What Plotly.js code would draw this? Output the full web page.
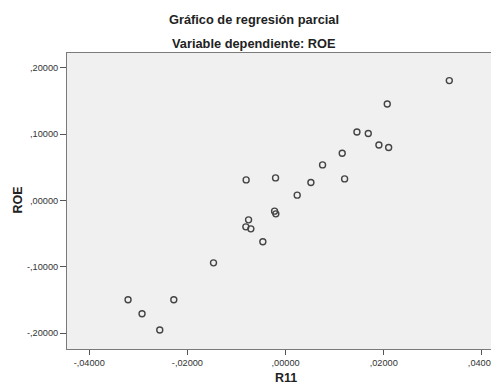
<!DOCTYPE html>
<html>
<head>
<meta charset="utf-8">
<script src="https://cdn.plot.ly/plotly-3.0.1.min.js"></script>
<style>
  html, body { margin: 0; padding: 0; overflow: hidden; background: #ffffff; }
  #chart { width: 500px; height: 385px; }
</style>
</head>
<body>
<div id="chart"></div>
<script>
// Partial regression: residuals of R11 vs residuals of ROE
const r11 = [
  0.03336, 0.02072, 0.01454, 0.01685, 0.01902, 0.02100, 0.01154, 0.00754,
  -0.00803, -0.00204, 0.00516, 0.01203, 0.00237, -0.00224, -0.00198,
  -0.00754, -0.00809, -0.00707, -0.00463, -0.01468,
  -0.03209, -0.02277, -0.02924, -0.02563
];
const roe = [
  0.1807, 0.1455, 0.1033, 0.1009, 0.0837, 0.0798, 0.0712, 0.0536,
  0.0310, 0.0340, 0.0271, 0.0325, 0.0080, -0.0161, -0.0202,
  -0.0292, -0.0398, -0.0428, -0.0623, -0.0940,
  -0.1497, -0.1497, -0.1708, -0.1953
];

const xTickVals = [-0.04, -0.02, 0, 0.02, 0.04];
const xTickText = ["-,04000", "-,02000", ",00000", ",02000", ",04000"];
const yTickVals = [0.2, 0.1, 0, -0.1, -0.2];
const yTickText = [",20000", ",10000", ",00000", "-,10000", "-,20000"];

const titleText = "Gráfico de regresión parcial";
const subtitleText = "Variable dependiente: ROE";
const xTitle = "R11";
const yTitle = "ROE";

const FONT = "Liberation Sans, Arial, sans-serif";

const trace = {
  type: "scatter",
  mode: "markers",
  x: r11,
  y: roe,
  marker: {
    symbol: "circle-open",
    size: 6,
    color: "#444444",
    line: { width: 1.4, color: "#444444" }
  },
  hoverinfo: "x+y"
};

const axisCommon = {
  showgrid: false,
  zeroline: false,
  showline: true,
  linecolor: "#7a7a7a",
  linewidth: 1,
  mirror: true,
  ticks: "outside",
  tickcolor: "#555555",
  tickwidth: 1,
  tickfont: { family: FONT, size: 9.2, color: "#333333" },
  automargin: false,
  fixedrange: true
};

const layout = {
  width: 500,
  height: 385,
  margin: { l: 67, r: 5, t: 53, b: 36, pad: 0 },
  paper_bgcolor: "#ffffff",
  plot_bgcolor: "#f0f0f0",
  showlegend: false,
  font: { family: FONT, color: "#222222" },
  xaxis: Object.assign({}, axisCommon, {
    range: [-0.04453, 0.04267],
    tickmode: "array",
    tickvals: xTickVals,
    ticktext: xTickText,
    ticklen: 5
  }),
  yaxis: Object.assign({}, axisCommon, {
    range: [-0.2239, 0.2223],
    tickmode: "array",
    tickvals: yTickVals,
    ticktext: yTickText,
    ticklen: 6
  }),
  annotations: [
    {
      text: "<b>" + titleText + "</b>",
      xref: "paper", yref: "paper",
      x: 0.438, y: 1, yshift: 33.4,
      xanchor: "center", yanchor: "middle",
      showarrow: false,
      font: { family: FONT, size: 12.8, color: "#222222" }
    },
    {
      text: "<b>" + subtitleText + "</b>",
      xref: "paper", yref: "paper",
      x: 0.438, y: 1, yshift: 10,
      xanchor: "center", yanchor: "middle",
      showarrow: false,
      font: { family: FONT, size: 12.8, color: "#222222" }
    },
    {
      text: "<b>" + xTitle + "</b>",
      xref: "x", yref: "paper",
      x: 0, y: 0, yshift: -29,
      xanchor: "center", yanchor: "middle",
      showarrow: false,
      font: { family: FONT, size: 12.5, color: "#222222" }
    },
    {
      text: "<b>" + yTitle + "</b>",
      xref: "paper", yref: "y",
      x: 0, y: 0, xshift: -49,
      xanchor: "center", yanchor: "middle",
      textangle: -90,
      showarrow: false,
      font: { family: FONT, size: 12.5, color: "#222222" }
    }
  ]
};

Plotly.newPlot("chart", [trace], layout, { displayModeBar: false, staticPlot: true });
</script>
</body>
</html>
